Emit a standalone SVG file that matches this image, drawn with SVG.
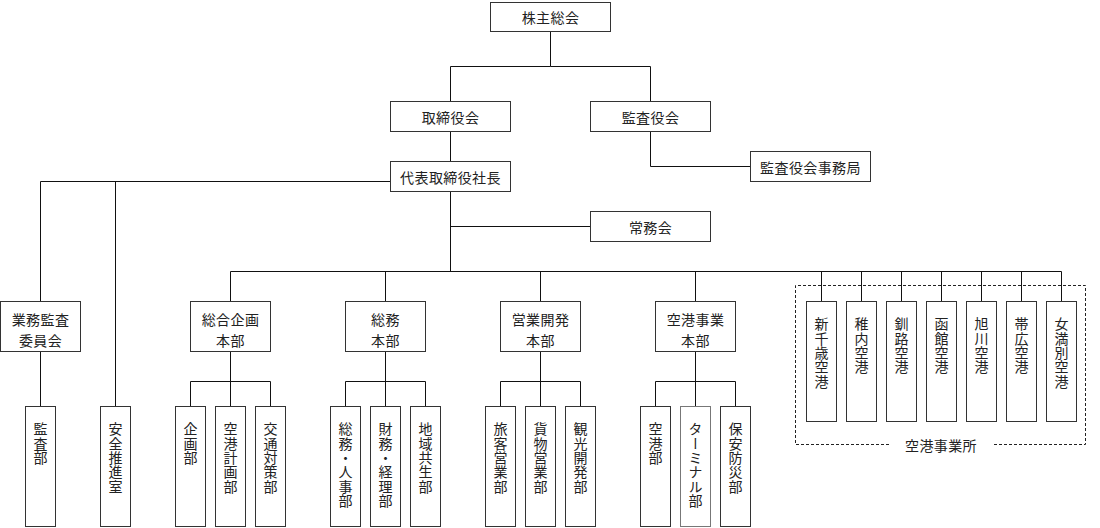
<svg xmlns="http://www.w3.org/2000/svg" width="1100" height="528" viewBox="0 0 1100 528">
<style>
.box{fill:#fff;stroke:#333;stroke-width:1}
.t{font-family:"Noto Sans CJK JP","Noto Sans",sans-serif;font-size:14px;fill:#222;text-anchor:middle;dominant-baseline:central;letter-spacing:0.4px}
.v{font-family:"Noto Sans CJK JP","Noto Sans",sans-serif;font-size:14px;fill:#222;writing-mode:vertical-rl;text-anchor:start;letter-spacing:0.3px}
.c{fill:none;stroke:#111;stroke-width:1}
.d{fill:none;stroke:#222;stroke-width:1;stroke-dasharray:3,2}
</style>
<rect width="1100" height="528" fill="#fff"/>
<g id="connectors">
<path class="c" d="M550.5 31V66.5H450.5V101M550.5 66.5H650.5V101"/>
<path class="c" d="M650.5 131V166.5H750"/>
<path class="c" d="M450.5 131V161"/>
<path class="c" d="M390 181.5H40.5V301M115.5 181.5V406"/>
<path class="c" d="M40.5 351V406"/>
<path class="c" d="M450.5 191V271.5M450.5 226.5H590"/>
<path class="c" d="M230.5 271.5H1061.5M230.5 271.5V301M385.5 271.5V301M540.5 271.5V301M695.5 271.5V301"/>
<path class="c" d="M821.5 271.5V301M861.5 271.5V301M901.5 271.5V301M941.5 271.5V301M981.5 271.5V301M1021.5 271.5V301M1061.5 271.5V301"/>
<path class="c" d="M230.5 351V406M190.5 406V381.5H270.5V406"/>
<path class="c" d="M385.5 351V406M345.5 406V381.5H425.5V406"/>
<path class="c" d="M540.5 351V406M500.5 406V381.5H580.5V406"/>
<path class="c" d="M695.5 351V406M655.5 406V381.5H735.5V406"/>
<path class="d" d="M889 444.5H795.5V285.5H1085.5V444.5H993"/>
</g>
<g id="n-kabunushi"><rect class="box" x="490.5" y="2.5" width="120" height="29"/><text class="t" x="550.5" y="17">株主総会</text></g>
<g id="n-torishimariyaku"><rect class="box" x="390.5" y="101.5" width="120" height="30"/><text class="t" x="450.5" y="116.5">取締役会</text></g>
<g id="n-kansayaku"><rect class="box" x="590.5" y="101.5" width="120" height="30"/><text class="t" x="650.5" y="116.5">監査役会</text></g>
<g id="n-kansa-jimu"><rect class="box" x="750.5" y="151.5" width="120" height="30"/><text class="t" x="810.5" y="166.5">監査役会事務局</text></g>
<g id="n-shacho"><rect class="box" x="390.5" y="161.5" width="120" height="30"/><text class="t" x="450.5" y="176.5">代表取締役社長</text></g>
<g id="n-jomu"><rect class="box" x="590.5" y="211.5" width="120" height="30"/><text class="t" x="650.5" y="226.5">常務会</text></g>
<g id="n-gyomukansa"><rect class="box" x="0.5" y="301.5" width="80" height="50"/><text class="t" x="40.5" y="318.5">業務監査</text><text class="t" x="40.5" y="339.5">委員会</text></g>
<g id="n-sogokikaku"><rect class="box" x="190.5" y="301.5" width="80" height="50"/><text class="t" x="230.5" y="318.5">総合企画</text><text class="t" x="230.5" y="339.5">本部</text></g>
<g id="n-somu"><rect class="box" x="345.5" y="301.5" width="80" height="50"/><text class="t" x="385.5" y="318.5">総務</text><text class="t" x="385.5" y="339.5">本部</text></g>
<g id="n-eigyo"><rect class="box" x="500.5" y="301.5" width="80" height="50"/><text class="t" x="540.5" y="318.5">営業開発</text><text class="t" x="540.5" y="339.5">本部</text></g>
<g id="n-kukojigyo"><rect class="box" x="655.5" y="301.5" width="80" height="50"/><text class="t" x="695.5" y="318.5">空港事業</text><text class="t" x="695.5" y="339.5">本部</text></g>
<g id="n-kansabu"><rect class="box" x="25.5" y="406.5" width="30" height="120"/><text class="v" x="40.5" y="422">監査部</text></g>
<g id="n-anzen"><rect class="box" x="100.5" y="406.5" width="30" height="120"/><text class="v" x="115.5" y="422">安全推進室</text></g>
<g id="n-kikaku"><rect class="box" x="175.5" y="406.5" width="30" height="120"/><text class="v" x="190.5" y="422">企画部</text></g>
<g id="n-kukokeikaku"><rect class="box" x="215.5" y="406.5" width="30" height="120"/><text class="v" x="230.5" y="422">空港計画部</text></g>
<g id="n-kotsu"><rect class="box" x="255.5" y="406.5" width="30" height="120"/><text class="v" x="270.5" y="422">交通対策部</text></g>
<g id="n-somujinji"><rect class="box" x="330.5" y="406.5" width="30" height="120"/><text class="v" x="345.5" y="422">総務・人事部</text></g>
<g id="n-zaimu"><rect class="box" x="370.5" y="406.5" width="30" height="120"/><text class="v" x="385.5" y="422">財務・経理部</text></g>
<g id="n-chiiki"><rect class="box" x="410.5" y="406.5" width="30" height="120"/><text class="v" x="425.5" y="422">地域共生部</text></g>
<g id="n-ryokaku"><rect class="box" x="485.5" y="406.5" width="30" height="120"/><text class="v" x="500.5" y="422">旅客営業部</text></g>
<g id="n-kamotsu"><rect class="box" x="525.5" y="406.5" width="30" height="120"/><text class="v" x="540.5" y="422">貨物営業部</text></g>
<g id="n-kanko"><rect class="box" x="565.5" y="406.5" width="30" height="120"/><text class="v" x="580.5" y="422">観光開発部</text></g>
<g id="n-kukobu"><rect class="box" x="640.5" y="406.5" width="30" height="120"/><text class="v" x="655.5" y="422">空港部</text></g>
<g id="n-terminal"><rect class="box" x="680.5" y="406.5" width="30" height="120" style="stroke:#777"/><text class="v" x="695.5" y="422">ターミナル部</text></g>
<g id="n-hoan"><rect class="box" x="720.5" y="406.5" width="30" height="120"/><text class="v" x="735.5" y="422">保安防災部</text></g>
<g id="n-shinchitose"><rect class="box" x="806.5" y="301.5" width="30" height="120"/><text class="v" x="821.5" y="317">新千歳空港</text></g>
<g id="n-wakkanai"><rect class="box" x="846.5" y="301.5" width="30" height="120"/><text class="v" x="861.5" y="317">稚内空港</text></g>
<g id="n-kushiro"><rect class="box" x="886.5" y="301.5" width="30" height="120"/><text class="v" x="901.5" y="317">釧路空港</text></g>
<g id="n-hakodate"><rect class="box" x="926.5" y="301.5" width="30" height="120"/><text class="v" x="941.5" y="317">函館空港</text></g>
<g id="n-asahikawa"><rect class="box" x="966.5" y="301.5" width="30" height="120"/><text class="v" x="981.5" y="317">旭川空港</text></g>
<g id="n-obihiro"><rect class="box" x="1006.5" y="301.5" width="30" height="120"/><text class="v" x="1021.5" y="317">帯広空港</text></g>
<g id="n-memanbetsu"><rect class="box" x="1046.5" y="301.5" width="30" height="120"/><text class="v" x="1061.5" y="317">女満別空港</text></g>
<g id="n-kukojigyosho"><text class="t" x="941" y="444.5">空港事業所</text></g>
</svg>
